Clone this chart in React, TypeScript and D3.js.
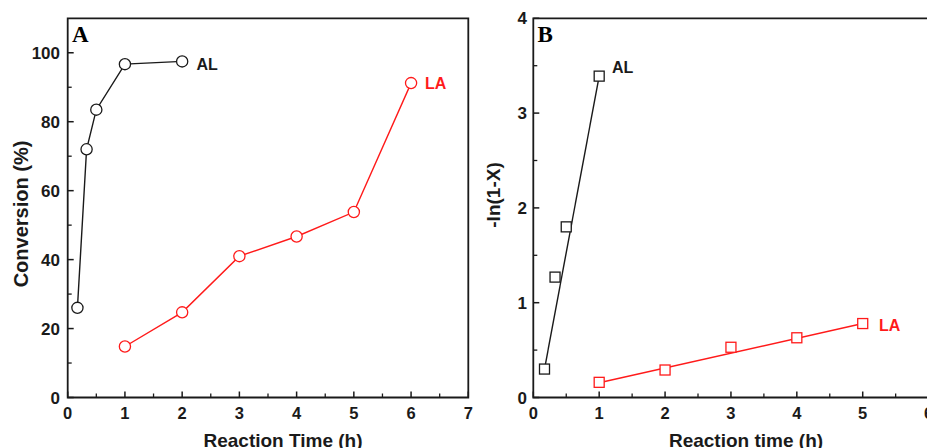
import React from "react";
import * as d3 from "d3";

// Panel A: conversion vs time
const timeAL = [0.17, 0.33, 0.5, 1, 2];
const convAL = [26, 72, 83.5, 96.7, 97.5];
const timeLA = [1, 2, 3, 4, 5, 6];
const convLA = [14.8, 24.7, 41, 46.7, 53.8, 91.2];

// Panel B: -ln(1-X) vs time
const kinTimeAL = [0.17, 0.33, 0.5, 1];
const kinAL = [0.3, 1.27, 1.8, 3.39];
const kinTimeLA = [1, 2, 3, 4, 5];
const kinLA = [0.16, 0.29, 0.53, 0.63, 0.78];
const fitTimeAL = [0.17, 1];
const fitAL = [0.3, 3.39];
const fitTimeLA = [1, 5];
const fitLA = [0.155, 0.78];

const ticksAx = [0, 1, 2, 3, 4, 5, 6, 7];
const ticksAy = [0, 20, 40, 60, 80, 100];
const ticksBx = [0, 1, 2, 3, 4, 5, 6];
const ticksBy = [0, 1, 2, 3, 4];

const FONT = "'Liberation Sans', Arial, sans-serif";
const SERIF = "'Liberation Serif', 'Times New Roman', serif";
const RED = "#ff1a1a";
const BLACK = "#1a1a1a";

type Scale = d3.ScaleLinear<number, number>;

function Frame({ x, y, majorX, majorY, minorX, minorY, showRight }: {
  x: Scale; y: Scale; majorX: number[]; majorY: number[]; minorX: number[]; minorY: number[]; showRight: boolean;
}) {
  const [x0, x1] = x.range();
  const [y0, y1] = y.range();
  return (
    <g>
      {majorX.map((t) => (
        <line key={"mx" + t} x1={x(t)} x2={x(t)} y1={y0} y2={y0 - 6} stroke={BLACK} strokeWidth={1.5} />
      ))}
      {minorX.map((t) => (
        <line key={"nx" + t} x1={x(t)} x2={x(t)} y1={y0} y2={y0 - 4} stroke={BLACK} strokeWidth={1.3} />
      ))}
      {majorY.map((t) => (
        <line key={"my" + t} x1={x0} x2={x0 + 6} y1={y(t)} y2={y(t)} stroke={BLACK} strokeWidth={1.5} />
      ))}
      {minorY.map((t) => (
        <line key={"ny" + t} x1={x0} x2={x0 + 4} y1={y(t)} y2={y(t)} stroke={BLACK} strokeWidth={1.3} />
      ))}
      <path
        d={showRight
          ? `M${x0},${y1}H${x1}V${y0}H${x0}Z`
          : `M${x1},${y1}H${x0}V${y0}H${x1}`}
        fill="none"
        stroke={BLACK}
        strokeWidth={1.8}
      />
    </g>
  );
}

function Series({ x, y, xs, ys, color, marker }: {
  x: Scale; y: Scale; xs: number[]; ys: number[]; color: string; marker: "circle" | "square";
}) {
  const pts = xs.map((v, i) => [x(v), y(ys[i])] as [number, number]);
  const line = d3.line();
  return (
    <g>
      {marker === "circle" && <path d={line(pts) || ""} fill="none" stroke={color} strokeWidth={1.4} />}
      {pts.map(([px, py], i) =>
        marker === "circle" ? (
          <circle key={i} cx={px} cy={py} r={5.6} fill="white" stroke={color} strokeWidth={1.3} />
        ) : (
          <rect key={i} x={px - 5} y={py - 5} width={10} height={10} fill="white" stroke={color} strokeWidth={1.3} />
        )
      )}
    </g>
  );
}

function FitLine({ x, y, xs, ys, color }: { x: Scale; y: Scale; xs: number[]; ys: number[]; color: string }) {
  const line = d3.line();
  const pts = xs.map((v, i) => [x(v), y(ys[i])] as [number, number]);
  return <path d={line(pts) || ""} fill="none" stroke={color} strokeWidth={1.4} />;
}

export default function App() {
  const xA = d3.scaleLinear().domain([0, 7]).range([67.7, 468.3]);
  const yA = d3.scaleLinear().domain([0, 110]).range([397.5, 18.3]);
  const xB = d3.scaleLinear().domain([0, 6]).range([533.3, 928.6]);
  const yB = d3.scaleLinear().domain([0, 4]).range([397.5, 18.3]);

  const minorAx = d3.range(0.5, 7, 1);
  const minorAy = d3.range(10, 110, 20);
  const minorBx = d3.range(0.5, 6, 1);
  const minorBy = d3.range(0.5, 4, 1);

  return (
    <svg
      width={927}
      height={448}
      style={{ position: "fixed", left: 0, top: 0, background: "white" }}
      fontFamily={FONT}
    >
      <rect width={927} height={448} fill="white" />

      {/* Panel A */}
      <Frame x={xA} y={yA} majorX={ticksAx} majorY={ticksAy} minorX={minorAx} minorY={minorAy} showRight={true} />
      {ticksAx.map((t) => (
        <text key={"ax" + t} x={xA(t)} y={419} textAnchor="middle" fontSize={16.5} fontWeight="bold" fill={BLACK}>
          {t}
        </text>
      ))}
      {ticksAy.map((t) => (
        <text key={"ay" + t} x={60} y={yA(t)} dy="0.36em" textAnchor="end" fontSize={17} fontWeight="bold" fill={BLACK}>
          {t}
        </text>
      ))}
      <text x={283} y={446.5} textAnchor="middle" fontSize={19} fontWeight="bold" fill={BLACK}>
        Reaction Time (h)
      </text>
      <text transform="translate(28,214) rotate(-90)" textAnchor="middle" fontSize={20} fontWeight="bold" fill={BLACK}>
        Conversion (%)
      </text>
      <text x={72} y={41.5} fontFamily={SERIF} fontSize={23} fontWeight="bold" fill="black">
        A
      </text>
      <Series x={xA} y={yA} xs={timeAL} ys={convAL} color={BLACK} marker="circle" />
      <Series x={xA} y={yA} xs={timeLA} ys={convLA} color={RED} marker="circle" />
      <text x={196.5} y={69.5} fontSize={16} fontWeight="bold" fill={BLACK}>AL</text>
      <text x={425} y={89} fontSize={16} fontWeight="bold" fill={RED}>LA</text>

      {/* Panel B */}
      <Frame x={xB} y={yB} majorX={ticksBx} majorY={ticksBy} minorX={minorBx} minorY={minorBy} showRight={true} />
      {ticksBx.map((t) => (
        <text key={"bx" + t} x={xB(t)} y={419} textAnchor="middle" fontSize={16.5} fontWeight="bold" fill={BLACK}>
          {t}
        </text>
      ))}
      {ticksBy.map((t) => (
        <text key={"by" + t} x={527} y={yB(t)} dy="0.36em" textAnchor="end" fontSize={17} fontWeight="bold" fill={BLACK}>
          {t}
        </text>
      ))}
      <text x={746} y={446.5} textAnchor="middle" fontSize={19} fontWeight="bold" fill={BLACK}>
        Reaction time (h)
      </text>
      <text transform="translate(500,195) rotate(-90)" textAnchor="middle" fontSize={19} fontWeight="bold" fill={BLACK}>
        -ln(1-X)
      </text>
      <text x={537.5} y={42.3} fontFamily={SERIF} fontSize={23} fontWeight="bold" fill="black">
        B
      </text>
      <FitLine x={xB} y={yB} xs={fitTimeAL} ys={fitAL} color={BLACK} />
      <FitLine x={xB} y={yB} xs={fitTimeLA} ys={fitLA} color={RED} />
      <Series x={xB} y={yB} xs={kinTimeAL} ys={kinAL} color={BLACK} marker="square" />
      <Series x={xB} y={yB} xs={kinTimeLA} ys={kinLA} color={RED} marker="square" />
      <text x={612} y={73} fontSize={16} fontWeight="bold" fill={BLACK}>AL</text>
      <text x={879} y={331} fontSize={16} fontWeight="bold" fill={RED}>LA</text>
    </svg>
  );
}
